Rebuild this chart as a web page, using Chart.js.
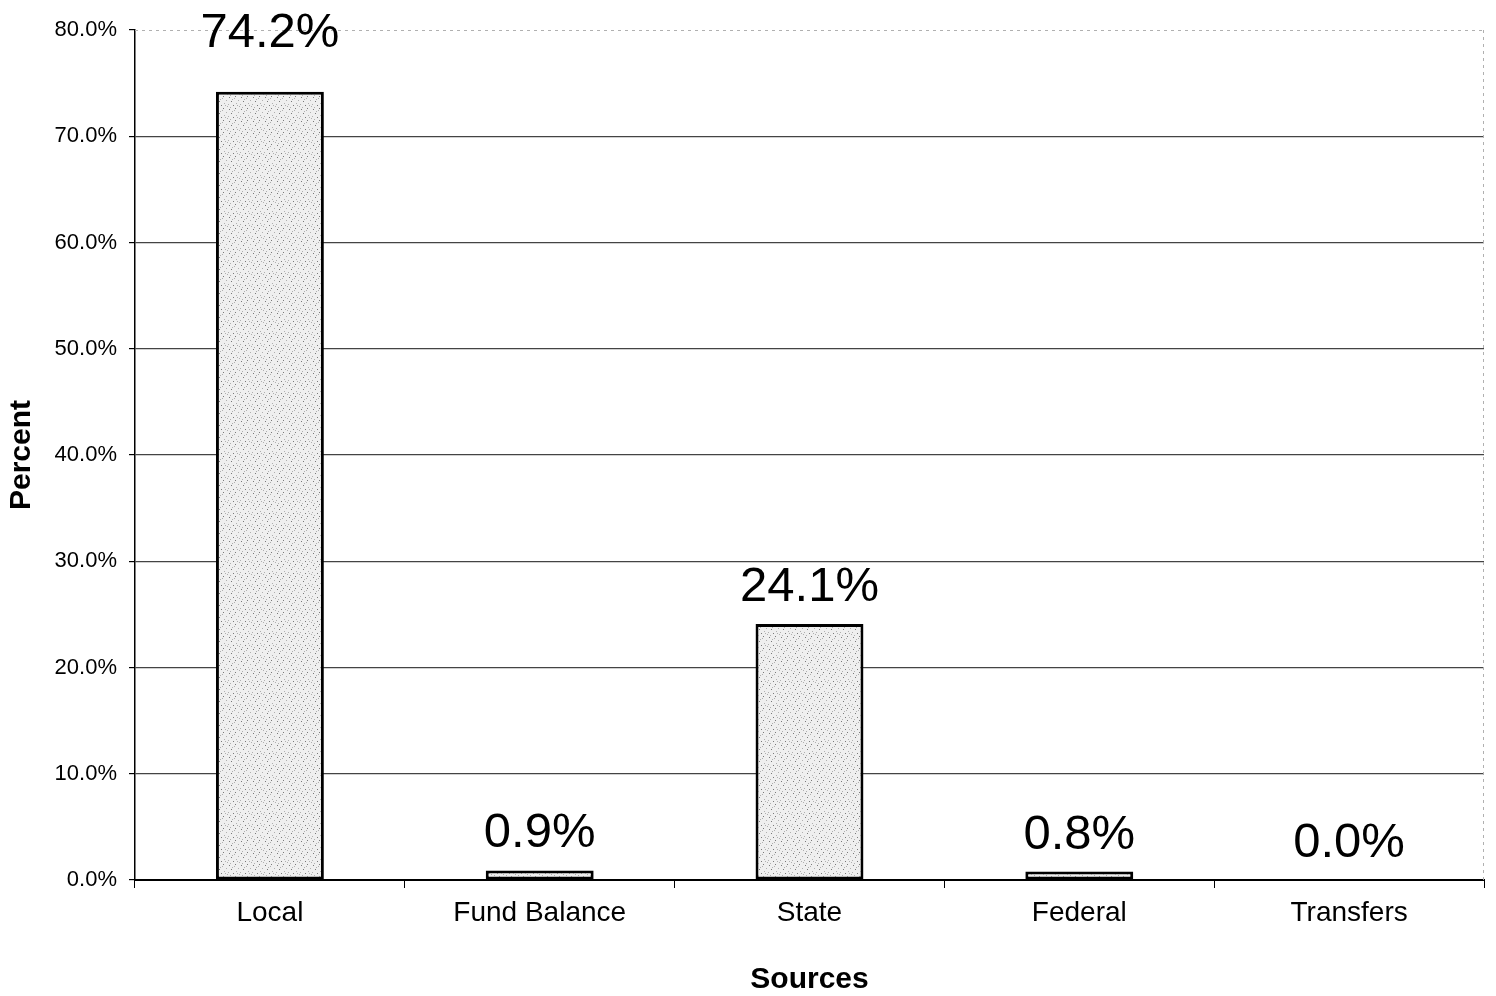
<!DOCTYPE html>
<html>
<head>
<meta charset="utf-8">
<script src="https://cdn.jsdelivr.net/npm/chart.js@4.4.1/dist/chart.umd.min.js"></script>
<style>
html,body{margin:0;padding:0;background:#fff;}
#wrap{width:1496px;height:996px;}
</style>
</head>
<body>
<div id="wrap"><canvas id="c" width="1496" height="996"></canvas></div>
<script>
const categories = ['Local', 'Fund Balance', 'State', 'Federal', 'Transfers'];
const percentValues = [74.2, 0.9, 24.1, 0.8, 0.0];
const yTickValues = [0, 10, 20, 30, 40, 50, 60, 70, 80];
const xAxisTitle = 'Sources';
const yAxisTitle = 'Percent';

const FONT = "'Liberation Sans', Arial, sans-serif";

// stipple fill pattern (style only)
function makePattern() {
  const p = document.createElement('canvas');
  p.width = 12; p.height = 12;
  const g = p.getContext('2d');
  g.fillStyle = '#efefef';
  g.fillRect(0, 0, 12, 12);
  const dots = [[1,1],[6,2],[10,4],[3,5],[8,7],[0,8],[5,9],[11,10],[2,11],[7,0],[4,3],[9,9]];
  dots.forEach(([x, y], i) => {
    g.fillStyle = i % 3 === 0 ? '#7a7a7a' : '#b0b0b0';
    g.fillRect(x, y, 1, 1);
  });
  return g.createPattern(p, 'repeat');
}

const labelPlugin = {
  id: 'barLabels',
  afterDatasetsDraw(chart, args, opts) {
    const ctx = chart.ctx;
    const meta = chart.getDatasetMeta(0);
    const area = chart.chartArea;
    ctx.save();
    ctx.font = '49px ' + FONT;
    ctx.fillStyle = '#000';
    ctx.textAlign = 'center';
    ctx.textBaseline = 'alphabetic';
    meta.data.forEach((bar, i) => {
      const v = chart.data.datasets[0].data[i];
      let y = bar.y - opts.gap - (opts.lift[i] || 0);
      y = Math.max(y, area.top + 17);
      ctx.fillText(v.toFixed(1) + '%', bar.x, y);
    });
    ctx.restore();
  },
  beforeDatasetsDraw(chart) {
    const ctx = chart.ctx;
    const a = chart.chartArea;
    ctx.save();
    ctx.strokeStyle = '#b0b0b0';
    ctx.lineWidth = 1;
    ctx.setLineDash([3, 4]);
    ctx.beginPath();
    ctx.moveTo(a.left, a.top + 0.5);
    ctx.lineTo(a.right, a.top + 0.5);
    ctx.moveTo(a.right - 0.5, a.top);
    ctx.lineTo(a.right - 0.5, a.bottom);
    ctx.stroke();
    ctx.restore();
  }
};

new Chart(document.getElementById('c'), {
  type: 'bar',
  data: {
    labels: categories,
    datasets: [{
      data: percentValues,
      backgroundColor: makePattern(),
      borderColor: '#000',
      borderWidth: 3,
      borderSkipped: false,
      barPercentage: 0.4,
      categoryPercentage: 1.0
    }]
  },
  options: {
    responsive: false,
    animation: false,
    devicePixelRatio: 1,
    layout: { padding: { top: 30, right: 12, bottom: 0, left: 0 } },
    plugins: {
      legend: { display: false },
      tooltip: { enabled: false },
      barLabels: { gap: 23, lift: [30, 0, 0, 0, 0] }
    },
    scales: {
      x: {
        grid: { drawOnChartArea: false, drawTicks: true, tickLength: 8, tickColor: '#000', offset: true },
        border: { display: true, color: '#000', width: 2 },
        ticks: { color: '#000', font: { family: FONT, size: 28 }, padding: 8, maxRotation: 0 },
        title: { display: true, text: xAxisTitle, color: '#000', font: { family: FONT, size: 30, weight: 'bold', lineHeight: 1.0 }, padding: { top: 0, bottom: 1 } },
        afterFit(s) { s.height = 116; }
      },
      y: {
        min: 0, max: 80,
        afterBuildTicks(s) { s.ticks = yTickValues.map(v => ({ value: v })); },
        grid: {
          color: (c) => (c.tick && c.tick.value === 80) ? 'rgba(0,0,0,0)' : '#444444',
          lineWidth: 1.2,
          tickLength: 6,
          tickColor: '#000'
        },
        border: { display: true, color: '#000', width: 1.5 },
        ticks: { color: '#000', font: { family: FONT, size: 22 }, padding: 12, callback: (v) => Number(v).toFixed(1) + '%' },
        title: { display: true, text: yAxisTitle, color: '#000', font: { family: FONT, size: 30, weight: 'bold' }, padding: { top: 4, bottom: 0 } },
        afterFit(s) { s.width = 135; }
      }
    }
  },
  plugins: [labelPlugin]
});
</script>
</body>
</html>
